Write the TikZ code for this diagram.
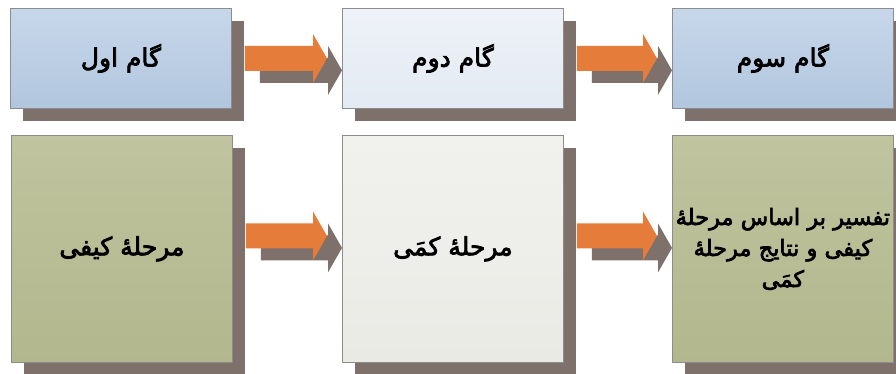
\documentclass[tikz,border=0pt]{standalone}
\usepackage{fontspec}
\newfontfamily\fafont[Script=Arabic,FakeBold=3]{DejaVu Sans}
\TeXXeTstate=1
\usetikzlibrary{calc,shadows}
\definecolor{blueT}{HTML}{C7D7EA}
\definecolor{blueB}{HTML}{B1C6DE}
\definecolor{paleT}{HTML}{EEF2F8}
\definecolor{paleB}{HTML}{E4EAF3}
\definecolor{oliveT}{HTML}{C0C49F}
\definecolor{oliveB}{HTML}{B2B78D}
\definecolor{greyT}{HTML}{F1F1EE}
\definecolor{greyB}{HTML}{EAEAE5}
\definecolor{shadowc}{HTML}{7E716B}
\definecolor{arroworange}{HTML}{E57C3A}
\definecolor{bordc}{HTML}{8C8C8C}
\newcommand\flowarrow[3]{% from, to, vertical offset (px)
  \fill[shadowc] ($(#1.east)+(28,#3+12-12.5)$) -- ($(#1.east -| #2.west)+(-14,#3+12-12.5)$)
     -- ++(0,-12) -- ($(#1.east -| #2.west)+(0,#3+12)$) -- ++(-14,24.5) -- ++(0,-12)
     -- ($(#1.east)+(28,#3+12+12.5)$) -- cycle;
  \fill[arroworange] ($(#1.east)+(13,#3-12.5)$) -- ($(#1.east -| #2.west)+(-29,#3-12.5)$)
     -- ++(0,-12) -- ($(#1.east -| #2.west)+(-15,#3)$) -- ++(-14,24.5) -- ++(0,-12)
     -- ($(#1.east)+(13,#3+12.5)$) -- cycle;
}
\begin{document}
\begin{tikzpicture}[x=1pt,y=-1pt,
  box/.style={draw=bordc, line width=0.8pt, anchor=north west, inner sep=0pt,
    minimum width=221pt, align=center,
    font=\fafont\fontsize{25}{31}\selectfont,
    drop shadow={shadow xshift=13pt, shadow yshift=-13pt, fill=shadowc, opacity=1}},
  topbox/.style={box, minimum height=100pt},
  botbox/.style={box, minimum height=227pt},
  bluebox/.style={top color=blueT, bottom color=blueB},
  palebox/.style={top color=paleT, bottom color=paleB},
  olivebox/.style={top color=oliveT, bottom color=oliveB},
  greybox/.style={top color=greyT, bottom color=greyB}]
\useasboundingbox (0,0) rectangle (896,374);
\fill[white] (0,0) rectangle (896,374);
\node[topbox, bluebox] (t1) at (10,8) {\beginR گام اول\endR};
\node[topbox, palebox] (t2) at (342,8) {\beginR گام دوم\endR};
\node[topbox, bluebox] (t3) at (672,8) {\beginR گام سوم\endR};
\node[botbox, olivebox] (b1) at (11,135) {\beginR مرحلهٔ کیفی\endR};
\node[botbox, greybox] (b2) at (342,135) {\beginR مرحلهٔ کمَی\endR};
\node[botbox, olivebox, font=\fafont\fontsize{22.5}{31}\selectfont] (b3) at (672,135) {\beginR تفسیر بر اساس مرحلهٔ\endR\\\beginR کیفی و نتایج مرحلهٔ\endR\\\beginR کمَی\endR};
\flowarrow{t1}{t2}{0}
\flowarrow{t2}{t3}{0}
\flowarrow{b1}{b2}{-13}
\flowarrow{b2}{b3}{-13}
\end{tikzpicture}
\end{document}
